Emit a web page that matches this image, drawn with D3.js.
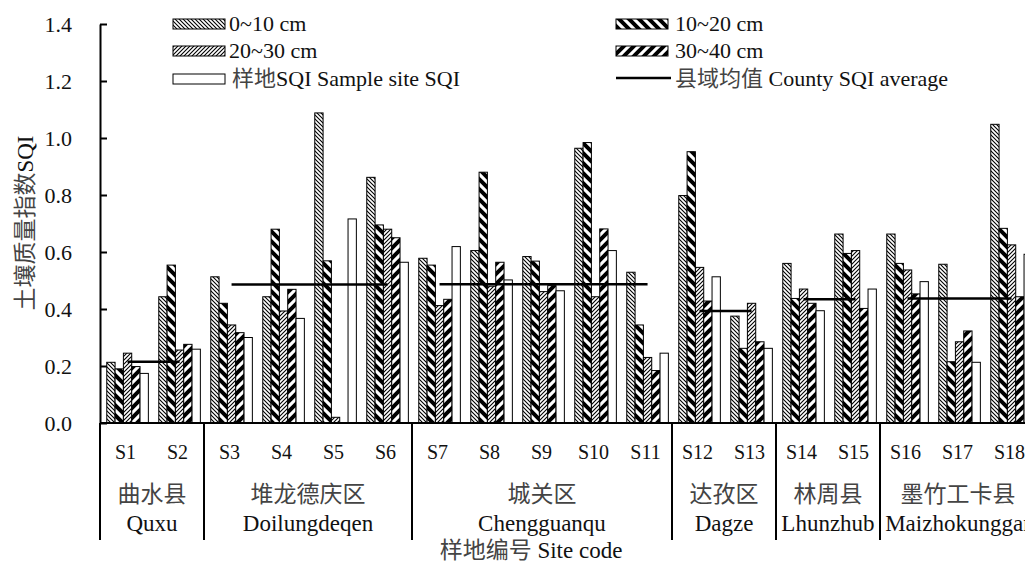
<!DOCTYPE html>
<html>
<head>
<meta charset="utf-8">
<script src="https://cdn.jsdelivr.net/npm/d3@7"></script>
<style>
  body { margin: 0; background: #fff; }
  svg { display: block; font-family: "Liberation Serif", "Times New Roman", "Noto Sans CJK SC", serif; }
</style>
</head>
<body>
<svg id="chart" width="1025" height="572"></svg>
<script>
// data
const sites = ['S1','S2','S3','S4','S5','S6','S7','S8','S9','S10','S11','S12','S13','S14','S15','S16','S17','S18'];
const depth0_10  = [0.213,0.443,0.513,0.443,1.088,0.862,0.578,0.605,0.584,0.964,0.529,0.798,0.375,0.560,0.663,0.663,0.557,1.048];
const depth10_20 = [0.190,0.554,0.420,0.680,0.569,0.695,0.554,0.880,0.568,0.984,0.344,0.952,0.262,0.437,0.595,0.560,0.215,0.683];
const depth20_30 = [0.245,0.256,0.344,0.393,0.020,0.680,0.412,0.480,0.461,0.443,0.230,0.546,0.420,0.470,0.605,0.537,0.285,0.625];
const depth30_40 = [0.198,0.276,0.317,0.469,0.000,0.650,0.434,0.564,0.482,0.681,0.184,0.428,0.285,0.420,0.402,0.453,0.323,0.443];
const siteSQI    = [0.174,0.259,0.300,0.367,0.716,0.564,0.619,0.502,0.464,0.605,0.245,0.513,0.262,0.394,0.470,0.496,0.213,0.592];

const countyZh = ['曲水县','堆龙德庆区','城关区','达孜区','林周县','墨竹工卡县'];
const countyEn = ['Quxu','Doilungdeqen','Chengguanqu','Dagze','Lhunzhub','Maizhokunggar'];
const countySites = [2, 4, 5, 2, 2, 3];
const countyAvg = [0.215, 0.486, 0.487, 0.393, 0.434, 0.437];

const yTicks = [0, 0.2, 0.4, 0.6, 0.8, 1.0, 1.2, 1.4];

const seriesKeys = ['d0', 'd1', 'd2', 'd3', 'site'];
const seriesLabels = ['0~10 cm', '10~20 cm', '20~30 cm', '30~40 cm', '样地SQI Sample site SQI'];
const seriesValues = [depth0_10, depth10_20, depth20_30, depth30_40, siteSQI];

const svg = d3.select('#chart');

// patterns
const defs = svg.append('defs');
function hatch(id, size, width, forward) {
  const p = defs.append('pattern')
    .attr('id', id)
    .attr('patternUnits', 'userSpaceOnUse')
    .attr('width', size)
    .attr('height', size);
  p.append('rect').attr('width', size).attr('height', size).attr('fill', '#fff');
  const s = size;
  const d = forward
    ? `M${-s/2},${s/2} L${s/2},${-s/2} M0,${s} L${s},0 M${s/2},${s*1.5} L${s*1.5},${s/2}`
    : `M${-s/2},${s/2} L${s/2},${s*1.5} M0,0 L${s},${s} M${s/2},${-s/2} L${s*1.5},${s/2}`;
  p.append('path').attr('d', d).attr('stroke', '#000').attr('stroke-width', width);
}
hatch('pat-d0', 4, 1.1, false);
hatch('pat-d1', 10, 4, false);
hatch('pat-d2', 4, 1.1, true);
hatch('pat-d3', 10, 4, true);
const fillFor = k => k === 'site' ? '#fff' : `url(#pat-${k})`;

// scales
const x = d3.scaleBand()
  .domain(sites)
  .range([100, 1036])
  .paddingInner(0.2)
  .paddingOuter(0.1)
  .align(0.65);

const x1 = d3.scaleBand()
  .domain(seriesKeys)
  .range([0, x.bandwidth()]);

const y = d3.scaleLinear()
  .domain([0, 1.4])
  .range([423, 24]);

// text helper: CJK runs get a lighter tone like the song typeface
function richText(sel, str) {
  str.split(/([\u4e00-\u9fff]+)/).filter(s => s.length).forEach(part => {
    const cjk = /[\u4e00-\u9fff]/.test(part);
    sel.append('tspan')
      .attr('fill', cjk ? '#444' : '#111')
      .attr('font-family', cjk ? '"Noto Sans CJK SC", sans-serif' : '"Liberation Serif", serif')
      .text(part);
  });
}

// bars
seriesKeys.forEach((key, si) => {
  svg.append('g')
    .selectAll('rect')
    .data(seriesValues[si])
    .enter()
    .append('rect')
    .attr('x', (d, i) => x(sites[i]) + x1(key))
    .attr('y', d => y(d))
    .attr('width', x1.bandwidth())
    .attr('height', d => y(0) - y(d))
    .attr('fill', fillFor(key))
    .attr('stroke', '#000')
    .attr('stroke-width', d => d > 0 ? 1 : 0);
});

// county average lines
let start = 0;
const groups = countySites.map((n, i) => {
  const g = {i, first: sites[start], last: sites[start + n - 1], from: start, to: start + n};
  start += n;
  return g;
});

svg.append('g')
  .selectAll('line')
  .data(groups)
  .enter()
  .append('line')
  .attr('x1', g => x(g.first) + x.bandwidth() / 2)
  .attr('x2', g => x(g.last) + x.bandwidth() / 2)
  .attr('y1', g => y(countyAvg[g.i]))
  .attr('y2', g => y(countyAvg[g.i]))
  .attr('stroke', '#000')
  .attr('stroke-width', 2.5);

// y axis
const yAxis = svg.append('g')
  .attr('transform', 'translate(100,0)')
  .call(d3.axisLeft(y)
    .tickValues(yTicks)
    .tickFormat(d3.format('.1f'))
    .tickSizeInner(-7)
    .tickSizeOuter(0)
    .tickPadding(28));
yAxis.select('.domain').attr('stroke-width', 2);
yAxis.selectAll('.tick line').attr('stroke-width', 2);
yAxis.selectAll('.tick text')
  .attr('font-size', 22)
  .attr('font-family', '"Liberation Serif", serif')
  .attr('fill', '#111');

// x axis with site labels
const xAxis = svg.append('g')
  .attr('transform', 'translate(-2,423)')
  .call(d3.axisBottom(x).tickSize(0).tickPadding(22));
xAxis.select('.domain').remove();
xAxis.selectAll('.tick text')
  .attr('font-size', 20)
  .attr('font-family', '"Liberation Serif", serif')
  .attr('fill', '#111');

svg.append('line')
  .attr('x1', 100).attr('x2', 1036)
  .attr('y1', y(0)).attr('y2', y(0))
  .attr('stroke', '#000')
  .attr('stroke-width', 2);

// county separators and names
const step = x.step();
const bounds = [0].concat(groups.map(g => g.to)).map(k => 100 + k * step);

svg.append('g')
  .selectAll('line')
  .data(bounds)
  .enter()
  .append('line')
  .attr('x1', d => d).attr('x2', d => d)
  .attr('y1', y(0)).attr('y2', 540)
  .attr('stroke', '#000')
  .attr('stroke-width', 2);

const names = svg.append('g')
  .attr('font-size', 23)
  .attr('text-anchor', 'middle');

names.selectAll('text.zh')
  .data(groups)
  .enter()
  .append('text')
  .attr('class', 'zh')
  .attr('x', g => (bounds[g.i] + bounds[g.i + 1]) / 2)
  .attr('y', 502)
  .attr('fill', '#444')
  .attr('font-family', '"Noto Sans CJK SC", sans-serif')
  .text(g => countyZh[g.i]);

names.selectAll('text.en')
  .data(groups)
  .enter()
  .append('text')
  .attr('class', 'en')
  .attr('x', g => (bounds[g.i] + bounds[g.i + 1]) / 2)
  .attr('y', 531)
  .attr('fill', '#111')
  .attr('font-family', '"Liberation Serif", serif')
  .text(g => countyEn[g.i]);

// axis titles
svg.append('text')
  .attr('x', 531)
  .attr('y', 558)
  .attr('font-size', 23)
  .attr('text-anchor', 'middle')
  .call(richText, '样地编号 Site code');

svg.append('text')
  .attr('transform', 'translate(33,223) rotate(-90)')
  .attr('font-size', 23)
  .attr('text-anchor', 'middle')
  .call(richText, '土壤质量指数SQI');

// legend
const legendItems = [
  {key: 'd0', label: seriesLabels[0], px: 173, tx: 229, cy: 24},
  {key: 'd1', label: seriesLabels[1], px: 616, tx: 675, cy: 24},
  {key: 'd2', label: seriesLabels[2], px: 173, tx: 229, cy: 51},
  {key: 'd3', label: seriesLabels[3], px: 616, tx: 675, cy: 51},
  {key: 'site', label: seriesLabels[4], px: 173, tx: 232, cy: 79}
];

const legend = svg.append('g').attr('font-size', 22);

legend.selectAll('rect')
  .data(legendItems)
  .enter()
  .append('rect')
  .attr('x', d => d.px)
  .attr('y', d => d.cy - 5)
  .attr('width', 52)
  .attr('height', 10)
  .attr('fill', d => fillFor(d.key))
  .attr('stroke', '#000')
  .attr('stroke-width', 1);

legend.selectAll('text')
  .data(legendItems)
  .enter()
  .append('text')
  .attr('x', d => d.tx)
  .attr('y', d => d.cy + 7)
  .each(function(d) { richText(d3.select(this), d.label); });

legend.append('line')
  .attr('x1', 616).attr('x2', 671)
  .attr('y1', 78).attr('y2', 78)
  .attr('stroke', '#000')
  .attr('stroke-width', 2.5);

legend.append('text')
  .attr('x', 675)
  .attr('y', 86)
  .call(richText, '县域均值 County SQI average');
</script>
</body>
</html>
